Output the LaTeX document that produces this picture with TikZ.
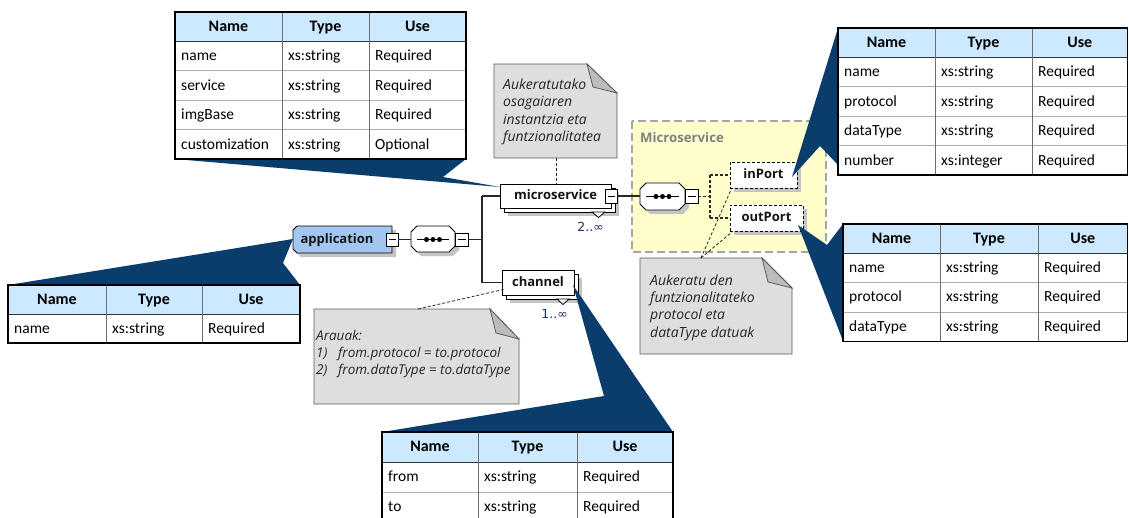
\documentclass[tikz,border=0pt]{standalone}
\usepackage{fontspec}
\setmainfont{Carlito}
\newfontfamily\uifont{Open Sans}
\newfontfamily\symfont{DejaVu Sans}
\usetikzlibrary{calc}

\definecolor{wedgeblue}{RGB}{10,61,107}
\definecolor{hdrblue}{RGB}{204,233,255}
\definecolor{notegray}{RGB}{222,222,222}
\definecolor{foldgray}{RGB}{188,188,188}
\definecolor{noteline}{RGB}{90,90,90}
\definecolor{groupfill}{RGB}{255,255,204}
\definecolor{groupline}{RGB}{165,165,165}
\definecolor{grouptitle}{RGB}{128,128,128}
\definecolor{appblue}{RGB}{163,198,240}
\definecolor{shadowgray}{RGB}{196,196,196}
\definecolor{multblue}{RGB}{30,50,110}
\definecolor{connline}{RGB}{40,40,40}
\definecolor{labelink}{RGB}{20,20,20}
\definecolor{rowgray}{RGB}{175,175,175}
\definecolor{colgray}{RGB}{110,110,110}

% attribute table: name, left, rule 1, rule 2, right, top, row height, body rows, cells
\newcommand{\attrtable}[9]{%
  \pgfmathsetmacro\tbot{#6+(#8+1)*#7}%
  \fill[hdrblue] (#2,#6) rectangle (#5,{#6+#7});
  \foreach \k in {2,...,#8}{\draw[rowrule] (#2,{#6+\k*#7}) -- (#5,{#6+\k*#7});}
  \draw[hdrrule] (#2,{#6+#7}) -- (#5,{#6+#7});
  \draw[colrule] (#3,#6) -- (#3,\tbot) (#4,#6) -- (#4,\tbot);
  \node[hdrtext] (#1-hn) at ({(#2+#3)/2},{#6+#7/2+1}) {Name};
  \node[hdrtext] (#1-ht) at ({(#3+#4)/2},{#6+#7/2+1}) {Type};
  \node[hdrtext] (#1-hu) at ({(#4+#5)/2},{#6+#7/2+1}) {Use};
  \foreach \a/\b/\c [count=\k] in {#9}{%
    \node[celltext] (#1-\k-n) at ({#2+6},{#6+(\k+0.5)*#7+1.2}) {\a};
    \node[celltext] (#1-\k-t) at ({#3+6},{#6+(\k+0.5)*#7+1.2}) {\b};
    \node[celltext] (#1-\k-u) at ({#4+6},{#6+(\k+0.5)*#7+1.2}) {\c};
  }
  \draw[tableframe] (#2,#6) rectangle (#5,\tbot);
}

\tikzset{
  hdrtext/.style={font=\fontsize{16}{18}\selectfont\bfseries, inner sep=0pt, text height=10.5pt, text depth=3pt},
  celltext/.style={font=\fontsize{15.5}{18}\selectfont, anchor=west, inner sep=0pt, text height=10pt, text depth=3pt},
  rowrule/.style={draw=rowgray, line width=0.7pt},
  hdrrule/.style={draw=black!80, line width=1pt},
  colrule/.style={draw=colgray, line width=0.8pt},
  tableframe/.style={draw=black, line width=1.3pt},
  elem/.style={draw=black, fill=white, line width=0.9pt, inner sep=0pt,
    text height=9.5pt, text depth=2.5pt, text=labelink,
    font=\fontsize{13}{15}\selectfont\uifont\bfseries},
  optelem/.style={elem, dash pattern=on 3pt off 2pt},
  backbox/.style={draw=black, fill=white, line width=0.9pt},
  shade/.style={fill=shadowgray},
  minusbox/.style={draw=black, fill=white, line width=0.8pt, minimum width=12pt,
    minimum height=14pt, inner sep=0pt,
    path picture={\draw[line width=0.8pt] ([xshift=2.5pt]path picture bounding box.west) -- ([xshift=-2.5pt]path picture bounding box.east);}},
  compo/.style={draw=black, fill=white, line width=0.9pt},
  anchorbox/.style={inner sep=0pt},
  conn/.style={draw=connline, line width=1.1pt},
  optconn/.style={conn, dash pattern=on 3pt off 2pt},
  noteconn/.style={draw=connline, line width=0.8pt, dash pattern=on 3pt off 2pt},
  notebody/.style={fill=notegray, draw=noteline, line width=0.8pt},
  notefold/.style={fill=foldgray, draw=noteline, line width=0.8pt},
  notetext/.style={font=\fontsize{14}{17.4}\selectfont\uifont\itshape, align=left,
    inner sep=0pt, anchor=west, text=black!85},
  multtext/.style={font=\fontsize{12.5}{14}\selectfont\symfont, text=multblue, inner sep=0pt},
  multmark/.style={draw=black, fill=white, line width=0.8pt, line join=miter},
  callout/.style={fill=wedgeblue},
}

\begin{document}
\begin{tikzpicture}[x=1pt,y=-1pt]
\useasboundingbox (0,0) rectangle (1129,517);
\clip (0,0) rectangle (1129,517);
\fill[white] (0,0) rectangle (1129,517);

% ---- Microservice group ----
\filldraw[fill=groupfill, draw=groupline, line width=1.4pt, dash pattern=on 8pt off 4pt]
  (632,121) rectangle (826,252);
\node[anchor=west, inner sep=0pt, text=grouptitle,
  font=\fontsize{13.2}{16}\selectfont\uifont\bfseries] (grouptitle) at (640,138) {Microservice};

% ---- application element ----
\fill[shade] (301,230) -- (396,230) -- (396,257) -- (301,257) -- (297,253) -- (297,234) -- cycle;
\filldraw[fill=appblue, draw=black, line width=0.9pt]
  (297,226) -- (392,226) -- (392,253) -- (297,253) -- (293,249) -- (293,230) -- cycle;
\node[anchorbox, text height=9.5pt, text depth=2.5pt, text=labelink,
  font=\fontsize{13}{15}\selectfont\uifont\bfseries] (app) at (337,239.5) {application};
\node[minusbox, minimum height=13pt] (appminus) at (392,239.5) {};

% ---- first sequence compositor ----
\fill[shade] (421,230) -- (453,230) -- (459,236) -- (459,250) -- (453,256) -- (421,256) -- (415,250) -- (415,236) -- cycle;
\filldraw[compo] (417,226) -- (449,226) -- (455,232) -- (455,246) -- (449,252) -- (417,252) -- (411,246) -- (411,232) -- cycle;
\node[anchorbox, minimum width=44pt, minimum height=26pt] (seqA) at (433,239.5) {};
\draw[line width=1.3pt] (417,239.5) -- (449,239.5);
\foreach \dx in {426.5,433,439.5} \fill (\dx,239.5) circle (2.5pt);
\node[minusbox, minimum width=13pt, minimum height=13pt] (seqAminus) at (461.5,239.5) {};

% ---- microservice element ----
\fill[shade] (508,192) rectangle (619,216);
\draw[backbox] (504,188) rectangle (615,212);
\node[elem, minimum width=111pt, minimum height=24pt] (micro) at (555.5,196) {microservice};
\filldraw[multmark] (592,212) -- (605,212) -- (598.5,217.5) -- cycle;
\node[multtext] (micromult) at (590.5,226.5) {2..∞};
\node[minusbox] (microminus) at (611,196) {};

% ---- channel element ----
\fill[shade] (510,278) rectangle (582,303);
\draw[backbox] (506,274) rectangle (578,299);
\node[elem, minimum width=72pt, minimum height=25pt] (channel) at (538,282.5) {channel};
\filldraw[multmark] (557,299) -- (569,299) -- (563,304.5) -- cycle;
\node[multtext] (chanmult) at (554.5,313.5) {1..∞};

% ---- second sequence compositor ----
\fill[shade] (650,187) -- (683,187) -- (689,193) -- (689,208) -- (683,214) -- (650,214) -- (644,208) -- (644,193) -- cycle;
\filldraw[compo] (646,183) -- (679,183) -- (685,189) -- (685,204) -- (679,210) -- (646,210) -- (640,204) -- (640,189) -- cycle;
\node[anchorbox, minimum width=45pt, minimum height=27pt] (seqB) at (662.5,196.5) {};
\draw[line width=1.3pt] (646,196.5) -- (679,196.5);
\foreach \dx in {656,662.5,669} \fill (\dx,196.5) circle (2.5pt);
\node[minusbox, minimum width=13pt] (seqBminus) at (691.5,196.5) {};

% ---- inPort / outPort ----
\fill[shade] (734,166) rectangle (801,192);
\node[optelem, minimum width=67pt, minimum height=26pt] (inport) at (763.5,175) {inPort};
\fill[shade] (734,209) rectangle (807,235);
\node[optelem, minimum width=73pt, minimum height=26pt] (outport) at (766.5,218) {outPort};

% ---- model group connectors ----
\coordinate (forkA) at (482,239.5);
\coordinate (forkB) at (710,196.5);
\draw[conn] (appminus.east) -- (seqA.west);
\draw[conn] (seqAminus.east) -- (forkA);
\draw[conn] (forkA |- micro.west) |- (micro.west);
\draw[conn] (forkA |- micro.west) -- (forkA |- channel.west) -- (channel.west);
\draw[conn] (microminus.east) -- (seqB.west |- microminus.east);
\draw[optconn] (seqBminus.east) -- (forkB);
\draw[optconn] (forkB |- inport.west) -- (forkB |- outport.west);
\draw[optconn] (forkB |- inport.west) -- (inport.west);
\draw[optconn] (forkB |- outport.west) -- (outport.west);

% ---- notes ----
\filldraw[notebody] (494,64) -- (587,64) -- (617,93) -- (617,158) -- (494,158) -- cycle;
\filldraw[notefold] (587,64) -- (617,93) -- (593,87) -- cycle;
\node[notetext] (note1) at (503,112) {Aukeratutako\\osagaiaren\\instantzia eta\\funtzionalitatea};
\coordinate (note1foot) at (556,158);
\draw[noteconn] (note1foot) -- (note1foot |- micro.north);

\filldraw[notebody] (640,258) -- (762,258) -- (792,288) -- (792,354) -- (640,354) -- cycle;
\filldraw[notefold] (762,258) -- (792,288) -- (768,282) -- cycle;
\node[notetext] (note2) at (650,307.5) {Aukeratu den\\funtzionalitateko\\protocol eta\\dataType datuak};
\coordinate (note2head) at (701,258);
\draw[noteconn] (note2head) -- ([xshift=2pt]inport.south west);
\draw[noteconn] (note2head) -- ([xshift=3pt]outport.south west);

\filldraw[notebody] (314,309) -- (490,309) -- (519,339) -- (519,404) -- (314,404) -- cycle;
\filldraw[notefold] (490,309) -- (519,339) -- (496,333) -- cycle;
\node[notetext, font=\fontsize{13.5}{17}\selectfont\uifont\itshape] (note3) at (316,354)
  {Arauak:\\\makebox[22pt][l]{1)}from.protocol = to.protocol\\\makebox[22pt][l]{2)}from.dataType = to.dataType};
\coordinate (note3head) at (418,309);
\draw[noteconn] (note3head) -- ([shift={(2,-6)}]channel.south west);

% ---- callout pointers ----
\fill[callout] (175,159) -- (466,159) -- (443,177) -- (500,187) -- cycle;
\fill[callout] (838,28) -- (792,177) -- (820,146) -- (838,165) -- cycle;
\fill[callout] (798,225) -- (827,245) -- (843,224) -- (843,341) -- cycle;
\fill[callout] (8,285) -- (293,239) -- (283,263) -- (300,285) -- cycle;
\fill[callout] (573,285) -- (673,432) -- (382,432) -- (604,396) -- cycle;

% ---- attribute tables ----
\attrtable{tMicro}{175}{282}{369}{466}{12}{29.4}{4}%
  {name/xs:string/Required, service/xs:string/Required, imgBase/xs:string/Required, customization/xs:string/Optional}
\attrtable{tIn}{838}{935}{1032}{1127.5}{28}{29.4}{4}%
  {name/xs:string/Required, protocol/xs:string/Required, dataType/xs:string/Required, number/xs:integer/Required}
\attrtable{tOut}{843}{940}{1038}{1127.5}{224}{29.3}{3}%
  {name/xs:string/Required, protocol/xs:string/Required, dataType/xs:string/Required}
\attrtable{tApp}{8}{106}{202}{300}{285}{29}{1}%
  {name/xs:string/Required}
\attrtable{tChan}{382}{478}{577}{673}{432}{30}{2}%
  {from/xs:string/Required, to/xs:string/Required}
\end{tikzpicture}
\end{document}
